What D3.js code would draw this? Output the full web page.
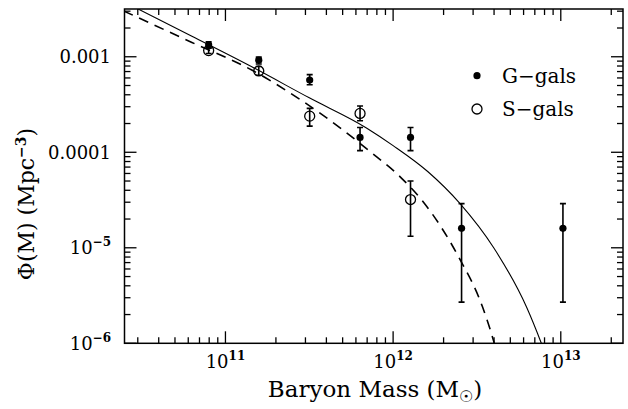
<!DOCTYPE html>
<html>
<head>
<meta charset="utf-8">
<script src="https://cdn.jsdelivr.net/npm/d3@7"></script>
<style>
  html, body { margin: 0; padding: 0; background: #fff; }
  svg { display: block; }
  text { font-family: "DejaVu Serif", "Liberation Serif", serif; fill: #000; }
</style>
</head>
<body>
<svg id="chart" width="628" height="409"></svg>
<script>
// Baryon mass function: binned counts for two galaxy samples plus the fitted curves.
const gMass = [7.94e10, 1.58e11, 3.18e11, 6.35e11, 1.27e12, 2.56e12, 1.03e13];
const gPhi  = [1.33e-3, 9.2e-4, 5.7e-4, 1.43e-4, 1.43e-4, 1.6e-5, 1.6e-5];
const gLo   = [1.23e-3, 8.4e-4, 5.1e-4, 1.04e-4, 1.04e-4, 2.7e-6, 2.7e-6];
const gHi   = [1.43e-3, 9.9e-4, 6.5e-4, 1.82e-4, 1.82e-4, 2.9e-5, 2.9e-5];

const sMass = [7.94e10, 1.58e11, 3.18e11, 6.35e11, 1.27e12];
const sPhi  = [1.16e-3, 7.1e-4, 2.39e-4, 2.55e-4, 3.2e-5];
const sLo   = [1.08e-3, 6.4e-4, 1.88e-4, 2.14e-4, 1.32e-5];
const sHi   = [1.24e-3, 7.9e-4, 2.88e-4, 3.05e-4, 5.0e-5];

// Fitted curves, sampled as (log10 M, log10 Phi)
const solidLogM   = [10.45, 10.8, 11.157, 11.5, 11.841, 12.0, 12.208, 12.398, 12.6, 12.795, 12.884, 12.92];
const solidLogPhi = [-2.474, -2.785, -3.105, -3.43, -3.745, -3.93, -4.204, -4.535, -5.0, -5.618, -6.0, -6.17];
const dashLogM    = [10.393, 10.8, 11.157, 11.444, 11.702, 11.85, 12.042, 12.18, 12.39, 12.533, 12.6, 12.62];
const dashLogPhi  = [-2.52, -2.85, -3.139, -3.446, -3.768, -3.975, -4.257, -4.52, -5.094, -5.618, -5.98, -6.11];

const xMajor = [1e11, 1e12, 1e13];
const xMajorExp = ["11", "12", "13"];
const yMajor = [1e-6, 1e-5, 1e-4, 1e-3];
const yMajorText = [["10", "\u22126"], ["10", "\u22125"], ["0.0001", null], ["0.001", null]];

const svg = d3.select("#chart");
const pL = 124.5, pR = 623, pT = 9, pB = 343.3;

const x = d3.scaleLog().domain([2.5e10, 2.35e13]).range([pL, pR]);
const y = d3.scaleLog().domain([1e-6, Math.pow(10, -2.5)]).range([pB, pT]);

// minor tick values inside each domain
function minorTicks(domain, majors) {
  const out = [];
  for (let e = Math.floor(Math.log10(domain[0])); e <= Math.ceil(Math.log10(domain[1])); e++) {
    for (let k = 1; k <= 9; k++) {
      const v = k * Math.pow(10, e);
      if (v >= domain[0] * 1.0001 && v <= domain[1] * 0.9999) out.push(v);
    }
  }
  return out.filter(v => !majors.some(m => Math.abs(v / m - 1) < 1e-6));
}
const xMinor = minorTicks(x.domain(), xMajor);
const yMinor = minorTicks(y.domain(), yMajor);

svg.append("defs").append("clipPath").attr("id", "plotClip")
  .append("rect").attr("x", pL).attr("y", pT).attr("width", pR - pL).attr("height", pB - pT);

const axes = svg.append("g").attr("stroke", "#000").attr("stroke-width", 1.3);

// frame
axes.append("rect").attr("x", pL).attr("y", pT).attr("width", pR - pL).attr("height", pB - pT)
  .attr("fill", "none").attr("stroke-width", 1.5);

// x ticks on bottom and top
const xt = [...xMajor.map(v => [v, 12]), ...xMinor.map(v => [v, 6])];
xt.forEach(([v, len]) => {
  axes.append("line").attr("x1", x(v)).attr("x2", x(v)).attr("y1", pB).attr("y2", pB - len);
  axes.append("line").attr("x1", x(v)).attr("x2", x(v)).attr("y1", pT).attr("y2", pT + len);
});
// y ticks on left and right
const yt = [...yMajor.map(v => [v, 12]), ...yMinor.map(v => [v, 6])];
yt.forEach(([v, len]) => {
  axes.append("line").attr("y1", y(v)).attr("y2", y(v)).attr("x1", pL).attr("x2", pL + len);
  axes.append("line").attr("y1", y(v)).attr("y2", y(v)).attr("x1", pR).attr("x2", pR - len);
});

// x tick labels
xMajor.forEach((v, i) => {
  const t = svg.append("text").attr("x", x(v)).attr("y", 368).attr("text-anchor", "middle")
    .attr("font-size", 18);
  t.append("tspan").text("10");
  t.append("tspan").attr("dy", -8).attr("font-size", 12).attr("font-weight", "bold").text(xMajorExp[i]);
});

// y tick labels
yMajor.forEach((v, i) => {
  const [base, sup] = yMajorText[i];
  const t = svg.append("text").attr("x", 111).attr("y", y(v) + 6.5).attr("text-anchor", "end")
    .attr("font-size", 18);
  t.append("tspan").text(base);
  if (sup) t.append("tspan").attr("dy", -8).attr("font-size", 12).attr("font-weight", "bold").text(sup);
});

// axis titles
const xTitle = svg.append("text").attr("x", 375).attr("y", 397).attr("text-anchor", "middle")
  .attr("font-size", 23);
xTitle.append("tspan").text("Baryon Mass (M");
xTitle.append("tspan").attr("dy", 5).attr("font-size", 16).text("\u2609");
xTitle.append("tspan").attr("dy", -5).text(")");

const yTitle = svg.append("text").attr("transform", "translate(34,204) rotate(-90)")
  .attr("text-anchor", "middle").attr("font-size", 22);
yTitle.append("tspan").text("\u03A6(M)  (Mpc");
yTitle.append("tspan").attr("dy", -8).attr("font-size", 14).attr("font-weight", "bold").text("\u22123");
yTitle.append("tspan").attr("dy", 8).text(")");

// curves
const plot = svg.append("g").attr("clip-path", "url(#plotClip)");
const line = d3.line().x(d => x(Math.pow(10, d[0]))).y(d => y(Math.pow(10, d[1]))).curve(d3.curveMonotoneX);
plot.append("path").datum(d3.zip(solidLogM, solidLogPhi)).attr("d", line)
  .attr("fill", "none").attr("stroke", "#000").attr("stroke-width", 1.1);
plot.append("path").datum(d3.zip(dashLogM, dashLogPhi)).attr("d", line)
  .attr("fill", "none").attr("stroke", "#000").attr("stroke-width", 1.6).attr("stroke-dasharray", "10,7");

// error bars
function errorBars(mass, lo, hi) {
  const g = plot.append("g").attr("stroke", "#000").attr("stroke-width", 1.6);
  mass.forEach((m, i) => {
    const cx = x(m);
    g.append("line").attr("x1", cx).attr("x2", cx).attr("y1", y(lo[i])).attr("y2", y(hi[i]));
    g.append("line").attr("x1", cx - 3).attr("x2", cx + 3).attr("y1", y(lo[i])).attr("y2", y(lo[i]));
    g.append("line").attr("x1", cx - 3).attr("x2", cx + 3).attr("y1", y(hi[i])).attr("y2", y(hi[i]));
  });
}
errorBars(gMass, gLo, gHi);
errorBars(sMass, sLo, sHi);

plot.append("g").selectAll("circle").data(d3.zip(sMass, sPhi)).join("circle")
  .attr("cx", d => x(d[0])).attr("cy", d => y(d[1])).attr("r", 5)
  .attr("fill", "none").attr("stroke", "#000").attr("stroke-width", 1.3);
plot.append("g").selectAll("circle").data(d3.zip(gMass, gPhi)).join("circle")
  .attr("cx", d => x(d[0])).attr("cy", d => y(d[1])).attr("r", 3.6).attr("fill", "#000");

// legend
const legend = svg.append("g");
legend.append("circle").attr("cx", 477).attr("cy", 75.7).attr("r", 3.6).attr("fill", "#000");
legend.append("text").attr("x", 502).attr("y", 82.5).attr("font-size", 20).text("G\u2212gals");
legend.append("circle").attr("cx", 477).attr("cy", 109).attr("r", 5)
  .attr("fill", "none").attr("stroke", "#000").attr("stroke-width", 1.3);
legend.append("text").attr("x", 502).attr("y", 115.5).attr("font-size", 20).text("S\u2212gals");
</script>
</body>
</html>
